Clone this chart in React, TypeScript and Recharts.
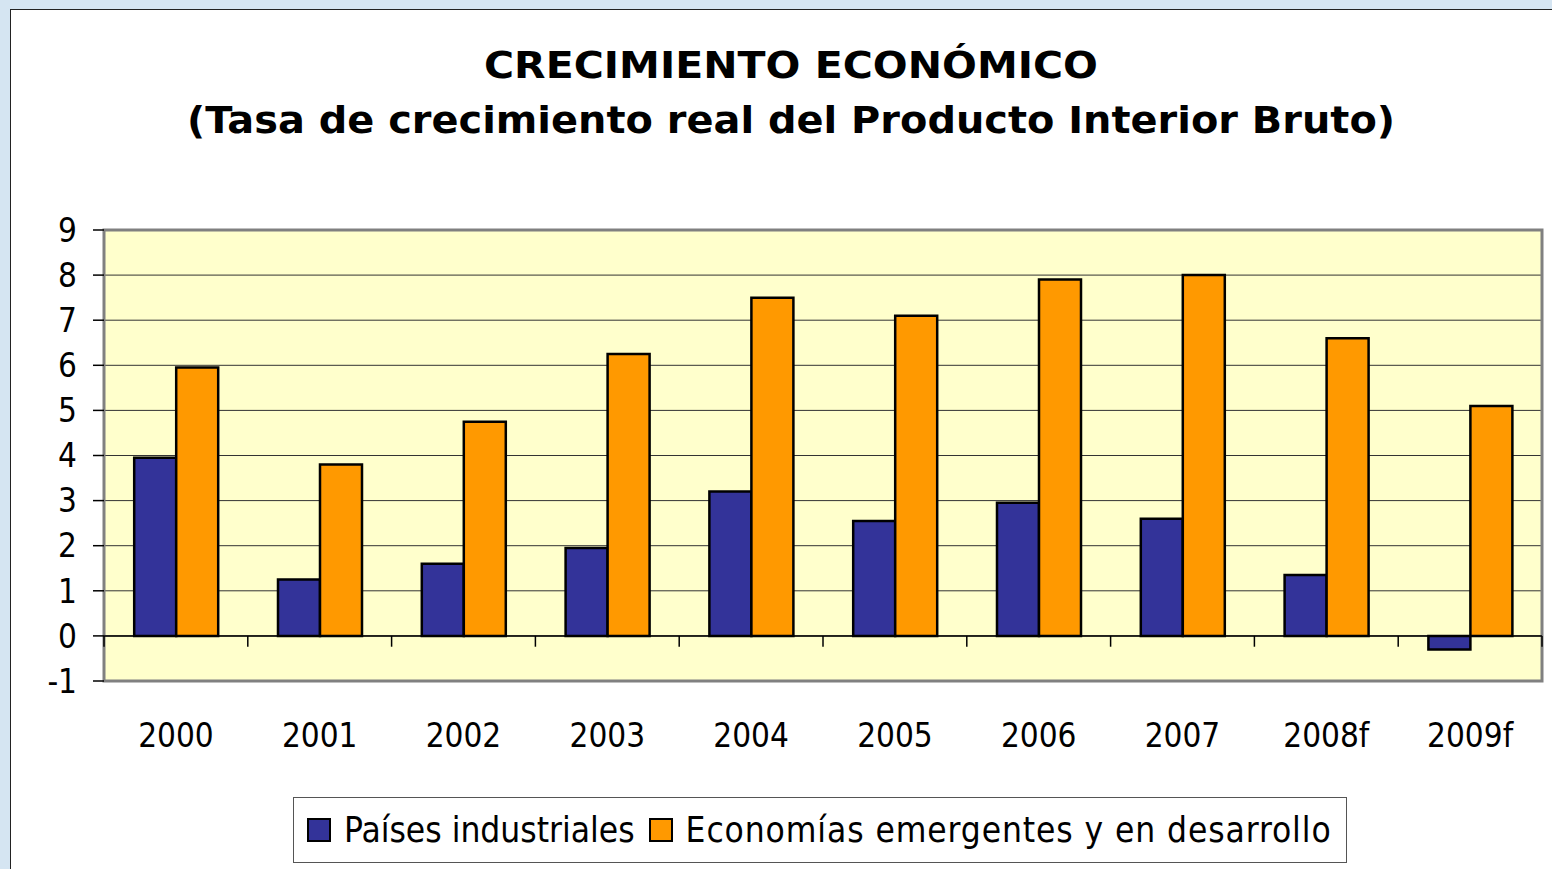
import React from "react";
import {
  BarChart,
  Bar,
  XAxis,
  YAxis,
  CartesianGrid,
  ReferenceLine,
  ReferenceArea,
} from "recharts";

const years = ["2000", "2001", "2002", "2003", "2004", "2005", "2006", "2007", "2008f", "2009f"];
const industriales = [3.95, 1.25, 1.6, 1.95, 3.2, 2.55, 2.95, 2.6, 1.35, -0.3];
const emergentes = [5.95, 3.8, 4.75, 6.25, 7.5, 7.1, 7.9, 8.0, 6.6, 5.1];
const yTicks = [-1, 0, 1, 2, 3, 4, 5, 6, 7, 8, 9];

const seriesNames = ["Países industriales", "Economías emergentes y en desarrollo"];
const seriesColors = ["#333399", "#FF9900"];

const data = years.map((year, i) => ({
  year,
  industriales: industriales[i],
  emergentes: emergentes[i],
}));

// tick marks between categories, hanging below the zero line
const boundaryTicks: { year: string; position: "start" | "end" }[] = [
  ...years.map((year) => ({ year, position: "start" as const })),
  { year: years[years.length - 1], position: "end" },
];

const FONT = "'DejaVu Sans Condensed', 'DejaVu Sans', sans-serif";

function LegendBox() {
  return (
    <div
      style={{
        position: "absolute",
        left: 293,
        top: 797,
        width: 1052,
        height: 64,
        border: "1px solid #555",
        background: "#fff",
        display: "flex",
        alignItems: "center",
        fontFamily: FONT,
        fontSize: 35,
        color: "#000",
        boxSizing: "content-box",
      }}
    >
      {seriesNames.map((name, i) => (
        <div key={name} style={{ display: "flex", alignItems: "center", marginLeft: i === 0 ? 13 : 14 }}>
          <span
            style={{
              display: "inline-block",
              width: 20,
              height: 20,
              background: seriesColors[i],
              border: "2px solid #000",
              marginRight: 13,
            }}
          />
          <span style={{ whiteSpace: "nowrap", letterSpacing: i === 0 ? 0 : 0.9 }}>{name}</span>
        </div>
      ))}
    </div>
  );
}

export default function App() {
  return (
    <div
      style={{
        position: "absolute",
        left: 0,
        top: 0,
        width: 1552,
        height: 869,
        overflow: "hidden",
        background: "#d5e5f2",
      }}
    >
      <div
        style={{
          position: "absolute",
          left: 10,
          top: 9,
          width: 1600,
          height: 900,
          background: "#fff",
          border: "1px solid #222",
        }}
      />
      <svg width={1552} height={160} style={{ position: "absolute", left: 0, top: 0 }}>
        <text
          x={791}
          y={78}
          textAnchor="middle"
          textLength={614}
          lengthAdjust="spacingAndGlyphs"
          fontFamily="'DejaVu Sans', sans-serif"
          fontWeight="bold"
          fontSize={37}
          fill="#000"
        >
          CRECIMIENTO ECONÓMICO
        </text>
        <text
          x={791}
          y={133}
          textAnchor="middle"
          textLength={1208}
          lengthAdjust="spacingAndGlyphs"
          fontFamily="'DejaVu Sans', sans-serif"
          fontWeight="bold"
          fontSize={38}
          fill="#000"
        >
          (Tasa de crecimiento real del Producto Interior Bruto)
        </text>
      </svg>
      <div style={{ position: "absolute", left: 0, top: 0 }}>
        <BarChart
          width={1552}
          height={869}
          data={data}
          margin={{ top: 230, right: 10, bottom: 128, left: 44 }}
          barCategoryGap="21%"
          barGap={0}
        >
          <CartesianGrid vertical={false} fill="#FFFFCC" stroke="#333" strokeWidth={1} />
          <XAxis
            dataKey="year"
            height={60}
            axisLine={false}
            tickLine={false}
            tickSize={35}
            tickMargin={8}
            interval={0}
            tick={{ fontFamily: FONT, fontSize: 33, fill: "#000" }}
          />
          <YAxis
            width={60}
            domain={[-1, 9]}
            ticks={yTicks}
            interval={0}
            axisLine={false}
            tickSize={11}
            tickMargin={16}
            tickLine={{ stroke: "#000", strokeWidth: 1.5 }}
            tick={{ fontFamily: FONT, fontSize: 33, fill: "#000" }}
          />
          <ReferenceLine y={0} stroke="#000" strokeWidth={1.5} />
          {boundaryTicks.map((b, i) => (
            <ReferenceLine
              key={i}
              position={b.position}
              segment={[
                { x: b.year, y: 0 },
                { x: b.year, y: -0.24 },
              ]}
              stroke="#000"
              strokeWidth={1.5}
            />
          ))}
          <ReferenceArea y1={-1} y2={9} fill="none" stroke="#808080" strokeWidth={3} />
          <Bar
            dataKey="industriales"
            name={seriesNames[0]}
            fill={seriesColors[0]}
            stroke="#000"
            strokeWidth={2.5}
            isAnimationActive={false}
          />
          <Bar
            dataKey="emergentes"
            name={seriesNames[1]}
            fill={seriesColors[1]}
            stroke="#000"
            strokeWidth={2.5}
            isAnimationActive={false}
          />
        </BarChart>
      </div>
      <LegendBox />
    </div>
  );
}
